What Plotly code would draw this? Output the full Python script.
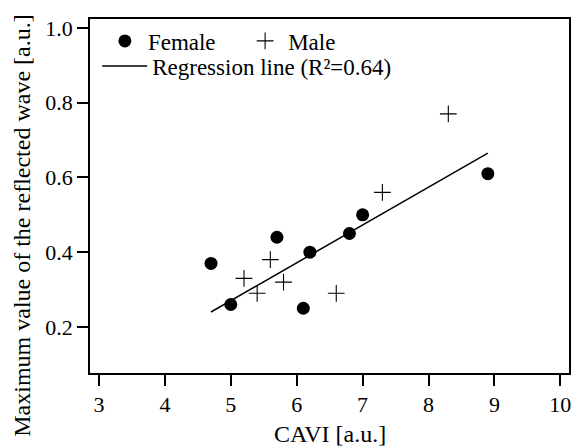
import plotly.graph_objects as go

# Data
female_cavi = [4.7, 5.0, 5.7, 6.1, 6.2, 6.8, 7.0, 8.9]
female_wave = [0.37, 0.26, 0.44, 0.25, 0.40, 0.45, 0.50, 0.61]
male_cavi = [5.2, 5.4, 5.6, 5.8, 6.6, 7.3, 8.3]
male_wave = [0.33, 0.29, 0.38, 0.32, 0.29, 0.56, 0.77]
reg_cavi = [4.7, 8.9]
reg_wave = [0.24, 0.665]

x_ticks = [3, 4, 5, 6, 7, 8, 9, 10]
x_ticktext = ["3", "4", "5", "6", "7", "8", "9", "10"]
y_ticks = [0.2, 0.4, 0.6, 0.8, 1.0]
y_ticktext = ["0.2", "0.4", "0.6", "0.8", "1.0"]

FONT = "Liberation Serif"

fig = go.Figure()
fig.add_trace(go.Scatter(
    x=female_cavi, y=female_wave, mode="markers", name="Female",
    marker=dict(symbol="circle", size=13, color="black"),
    legend="legend", showlegend=True,
))
fig.add_trace(go.Scatter(
    x=male_cavi, y=male_wave, mode="markers", name="Male",
    marker=dict(symbol="cross-thin", size=12, color="black",
                line=dict(width=1.1, color="black")),
    legend="legend2", showlegend=True,
))
fig.add_trace(go.Scatter(
    x=reg_cavi, y=reg_wave, mode="lines", name="Regression line (R²=0.64)",
    line=dict(color="black", width=1.5),
    legend="legend3", showlegend=True,
))

tickfont = dict(family=FONT, size=22, color="black")
axis_common = dict(
    showline=True, linecolor="black", linewidth=1.5, mirror=True,
    ticks="outside", ticklen=11, tickwidth=1.5, tickcolor="black",
    showgrid=False, zeroline=False,
)

fig.update_layout(
    xaxis=dict(range=[2.864, 10.131], tickvals=x_ticks, ticktext=x_ticktext,
               tickfont=tickfont, **axis_common),
    yaxis=dict(range=[0.0767, 1.024], tickvals=y_ticks, ticktext=y_ticktext,
               tickfont=tickfont, **axis_common),
)

leg_common = dict(
    bgcolor="rgba(0,0,0,0)", borderwidth=0,
    font=dict(family=FONT, size=23, color="black"),
    xanchor="left", yanchor="middle",
)

fig.update_layout(
    width=573, height=447,
    margin=dict(l=90, r=2, t=19, b=74),
    paper_bgcolor="white", plot_bgcolor="white",
    font=dict(family=FONT, color="black"),
    showlegend=True,
    legend=dict(x=0.0248, y=0.938, itemwidth=36, **leg_common),
    legend2=dict(x=0.3176, y=0.938, itemwidth=36, **leg_common),
    legend3=dict(x=0.015, y=0.867, itemwidth=45, **leg_common),
    annotations=[
        dict(text="CAVI [a.u.]", xref="paper", yref="paper", x=0.5, y=-0.173,
             xanchor="center", yanchor="middle", showarrow=False,
             font=dict(family=FONT, size=24, color="black")),
        dict(text="Maximum value of the reflected wave [a.u.]", xref="paper", yref="paper",
             x=(22 - 90) / 481.0, y=0.4167, textangle=-90,
             xanchor="center", yanchor="middle", showarrow=False,
             font=dict(family=FONT, size=24, color="black")),
    ],
)

fig.write_html("out.html", config={"displayModeBar": False},
               post_script="document.body.style.margin='0px';")
